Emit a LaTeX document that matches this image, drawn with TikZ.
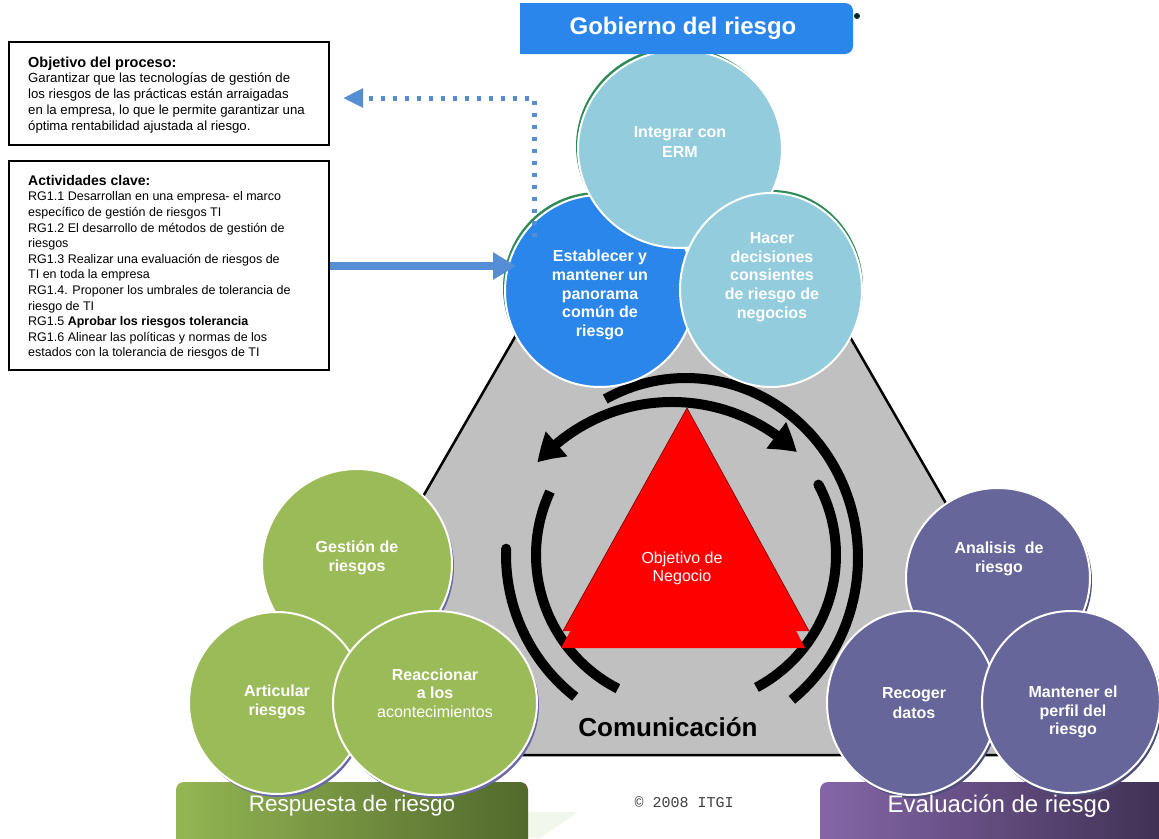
\documentclass[tikz,border=0pt]{standalone}
\usepackage{fontspec}
\setmainfont{Liberation Sans}
\newfontfamily\monofam{Liberation Mono}
\usetikzlibrary{shapes.geometric,arrows.meta,bending}
\definecolor{lblue}{HTML}{93CDDD}
\definecolor{mblue}{HTML}{2A86EA}
\definecolor{rgreen}{HTML}{9BBB59}
\definecolor{rpurple}{HTML}{66669A}
\definecolor{bggray}{HTML}{C0C0C0}
\definecolor{arrblue}{HTML}{558ED5}
\definecolor{shgreen}{HTML}{2E8B57}
\definecolor{shblue}{HTML}{6A68A6}
\definecolor{shpurple}{HTML}{4E4E7A}
\definecolor{barga}{HTML}{94B653}
\definecolor{bargb}{HTML}{52692C}
\definecolor{barpa}{HTML}{8466A8}
\definecolor{barpb}{HTML}{3E3052}
\definecolor{palegreen}{HTML}{F1F7EA}
\begin{document}
\begin{tikzpicture}[x=1pt,y=-1pt,
  ring/.style={line width=10pt,draw=black},
  bub/.style={ellipse,draw=white,line width=2pt,inner sep=0pt},
  shad/.style={ellipse,inner sep=0pt},
  btxt/.style={text=white,align=center,inner sep=0pt,font=\bfseries\fontsize{16}{19.5}\selectfont},
  infobox/.style={draw=black,line width=1.6pt,anchor=north west,inner sep=0pt},
  infotxt/.style={anchor=north west,inner sep=0pt,align=left},
  bartxt/.style={text=white,inner sep=0pt}
]
\useasboundingbox (0,0) rectangle (1159,838);
\fill[white] (0,0) rectangle (1159,838);

% ---------- info boxes ----------
\node[infobox,minimum width=320pt,minimum height=103pt] (objbox) at (8,41) {};
\node[infotxt,font=\fontsize{13.2}{15.75}\selectfont] (objtxt) at (28,56.5)
 {{\fontsize{14.5}{15.75}\selectfont\bfseries Objetivo del proceso:}\\
  Garantizar que las tecnologías de gestión de\\
  los riesgos de las prácticas están arraigadas\\
  en la empresa, lo que le permite garantizar una\\
  óptima rentabilidad ajustada al riesgo.};
\node[infobox,minimum width=320pt,minimum height=209pt] (actbox) at (8,160) {};
\node[infotxt,font=\fontsize{12.5}{15.6}\selectfont] (acttxt) at (28,175)
 {{\fontsize{14}{15.6}\selectfont\bfseries Actividades clave:}\\
  RG1.1 Desarrollan en una empresa- el marco\\
  específico de gestión de riesgos TI\\
  RG1.2 El desarrollo de métodos de gestión de\\
  riesgos\\
  RG1.3 Realizar una evaluación de riesgos de\\
  TI en toda la empresa\\
  RG1.4. Proponer los umbrales de tolerancia de\\
  riesgo de TI\\
  RG1.5 \textbf{Aprobar los riesgos tolerancia}\\
  RG1.6 Alinear las políticas y normas de los\\
  estados con la tolerancia de riesgos de TI};

% ---------- gray truncated triangle ----------
\fill[bggray] (519,330) -- (846,330) -- (1091,755) -- (274,755) -- cycle;
\draw[line width=2.5pt] (519,330) -- (274,755) -- (1091,755) -- (846,330);

% ---------- rings ----------
\draw[ring] plot[domain=205:117,samples=60] ({686+150*cos(\x)},{555+150*sin(\x)});
\draw[ring] plot[domain=-28:62,samples=60] ({686+150*cos(\x)},{555+150*sin(\x)});
\draw[ring] plot[domain=182:128,samples=40] ({686+180*cos(\x)},{555+180*sin(\x)});
\draw[ring] plot[domain=-118:52,samples=90] ({686+172*cos(\x)},{558+180*sin(\x)});
\fill (818.4,484.6) circle[radius=5pt];
\fill (506.1,548.7) circle[radius=5pt];
\coordinate (aL) at (537.4,462.5);
\coordinate (aR) at (796.8,452.3);
\draw[ring,{Triangle[length=27pt,width=31pt,bend]}-{Triangle[length=27pt,width=31pt,bend]}]
  (aL) .. controls (605.3,386.0) and (723.1,381.4) .. (aR);

% ---------- red triangle ----------
\fill[red] (687,408) -- (809,631) -- (563,631) -- cycle;
\fill[red] (687,420) -- (805,648) -- (561,648) -- cycle;
\draw[red!45!black,line width=0.6pt] (563,631) -- (687,408) -- (809,631);
\node[text=white,align=center,inner sep=0pt,font=\fontsize{16}{18}\selectfont] (objneg) at (682,568) {Objetivo de\\Negocio};

\node[inner sep=0pt,font=\bfseries\fontsize{26}{30}\selectfont] (comm) at (668,727) {Comunicación};

% ---------- bottom bars ----------
\fill[palegreen] (528,812) -- (578,812) -- (540,838) -- (528,838) -- cycle;
\shade[rounded corners=8pt,left color=barga,right color=bargb] (176,782) rectangle (528,848);
\shade[rounded corners=8pt,left color=barpa,right color=barpb] (820,782) rectangle (1170,848);
\node[text=darkgray,inner sep=0pt,font=\monofam\fontsize{15}{18}\selectfont] (copy) at (684,802) {© 2008 ITGI};

% ---------- top group (Gobierno) ----------
\node[shad,fill=shgreen,minimum width=190pt,minimum height=192pt] (shEst) at (598,288) {};
\node[shad,fill=shgreen,minimum width=204pt,minimum height=198pt] (shInt) at (678,146) {};
\node[shad,fill=shgreen,minimum width=182pt,minimum height=194pt] (shHac) at (772,287) {};
\node[bub,fill=mblue,minimum width=190pt,minimum height=192pt] (Estab) at (600,291) {};
\node[bub,fill=lblue,minimum width=204pt,minimum height=198pt] (Integ) at (680,149) {};
\node[bub,fill=lblue,minimum width=182pt,minimum height=194pt] (Hacer) at (771,290) {};
\node[btxt,font=\bfseries\fontsize{16}{18.7}\selectfont] (tEst) at (600,295) {Establecer y\\mantener un\\panorama\\común de\\riesgo};
\node[btxt] (tInt) at (680,142) {Integrar con\\ERM};
\node[btxt,font=\bfseries\fontsize{16}{18.7}\selectfont] (tHac) at (772,277) {Hacer\\decisiones\\consientes\\de riesgo de\\negocios};

\fill[mblue,rounded corners=8pt] (520,3) rectangle (853,54);
\fill[mblue] (520,3) rectangle (600,54);
\node[bartxt,font=\bfseries\fontsize{24}{28}\selectfont] (gob) at (683,28) {Gobierno del riesgo};
\fill[black!70!shgreen] (857,16) circle[radius=3pt];

% ---------- green group (Respuesta) ----------
\node[shad,fill=shblue,minimum width=190pt,minimum height=190pt] (shGes) at (359,567) {};
\node[shad,fill=shblue,minimum width=176pt,minimum height=182pt] (shArt) at (279,706) {};
\node[shad,fill=shblue,minimum width=204pt,minimum height=184pt] (shRea) at (437,706) {};
\node[bub,fill=rgreen,minimum width=190pt,minimum height=190pt] (Gest) at (357,564) {};
\node[bub,fill=rgreen,minimum width=176pt,minimum height=182pt] (Artic) at (277,703) {};
\node[bub,fill=rgreen,minimum width=204pt,minimum height=184pt] (Reacc) at (435,703) {};
\node[btxt] (tGes) at (357,558) {Gestión de\\riesgos};
\node[btxt] (tArt) at (277,702) {Articular\\riesgos};
\node[btxt,font=\bfseries\fontsize{16}{18.7}\selectfont] (tRea) at (435,693) {Reaccionar\\a los\\\mdseries acontecimientos};
\node[bartxt,font=\fontsize{22.5}{26}\selectfont] (resp) at (352,806) {Respuesta de riesgo};

% ---------- purple group (Evaluacion) ----------
\node[shad,fill=shpurple,minimum width=184pt,minimum height=180pt] (shAna) at (1000,581) {};
\node[shad,fill=shpurple,minimum width=170pt,minimum height=184pt] (shRec) at (914,706) {};
\node[shad,fill=shpurple,minimum width=178pt,minimum height=182pt] (shMan) at (1073,705) {};
\node[bub,fill=rpurple,minimum width=184pt,minimum height=180pt] (Anal) at (998,578) {};
\node[bub,fill=rpurple,minimum width=170pt,minimum height=184pt] (Recog) at (912,703) {};
\node[bub,fill=rpurple,minimum width=178pt,minimum height=182pt] (Mant) at (1071,702) {};
\node[btxt] (tAna) at (999,559) {Analisis\ \ de\\riesgo};
\node[btxt] (tRec) at (914,703) {Recoger\\datos};
\node[btxt,font=\bfseries\fontsize{16}{18.7}\selectfont] (tMan) at (1073,712) {Mantener el\\perfil del\\riesgo};
\node[bartxt,font=\fontsize{24}{28}\selectfont] (eval) at (999,806) {Evaluación de riesgo};

% ---------- blue connectors ----------
\coordinate (dotStart) at (534,237);
\coordinate (dotEnd) at (343,98);
\draw[arrblue,line width=5pt,dash pattern=on 4pt off 8pt,-{Triangle[length=20pt,width=18pt]}]
  (dotStart) |- (dotEnd);
\draw[arrblue,line width=8pt,-{Triangle[length=23pt,width=26pt]}]
  (actbox.east |- 0,266) -- ([xshift=12pt]Estab.west |- 0,266);
\end{tikzpicture}
\end{document}
